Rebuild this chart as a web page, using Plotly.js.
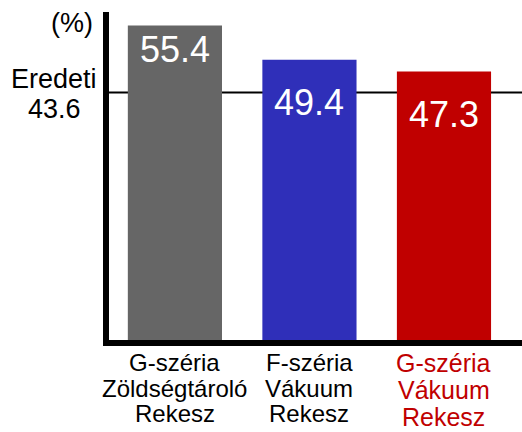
<!DOCTYPE html>
<html>
<head>
<meta charset="utf-8">
<script src="https://cdn.plot.ly/plotly-3.0.1.min.js"></script>
<style>html,body{margin:0;padding:0;background:#fff;}#chart{width:522px;height:432px;}</style>
</head>
<body>
<div id="chart"></div>
<script>
// ---- data ----
const categories = ["G-széria<br>Zöldségtároló<br>Rekesz", "F-széria<br>Vákuum<br>Rekesz", "G-széria<br>Vákuum<br>Rekesz"];
const values = [55.4, 49.4, 47.3];
const valueLabels = ["55.4", "49.4", "47.3"];
const baselineValue = 43.6;
const baselineLabel = "Eredeti";
const unitLabel = "(%)";

// ---- styles ----
const barColors = ["#666666", "#2F2FB9", "#C00000"];
const catColors = ["#000000", "#000000", "#C00000"];
const catSizes = [24, 24, 25];
const catFirstShift = [22.5, 22.5, 23];
const catLineGap = [25.5, 25.5, 26.8];
const valueShift = [-24, -43, -43];
const FONT = "Liberation Sans, Arial, sans-serif";

const annotations = [];
values.forEach((v, i) => {
  annotations.push({
    x: categories[i], y: v, xref: "x", yref: "y",
    text: valueLabels[i], showarrow: false,
    xanchor: "center", yanchor: "middle", yshift: valueShift[i],
    font: {family: FONT, size: 36, color: "#ffffff"}
  });
  categories[i].split("<br>").forEach((line, j) => {
    annotations.push({
      x: categories[i], y: 0, xref: "x", yref: "paper",
      text: line, showarrow: false, borderpad: 0,
      xanchor: "center", yanchor: "middle",
      yshift: -(catFirstShift[i] + j * catLineGap[i]),
      font: {family: FONT, size: catSizes[i], color: catColors[i]}
    });
  });
});
annotations.push({
  x: 0, y: 1, xref: "paper", yref: "paper", text: unitLabel, showarrow: false,
  xanchor: "center", yanchor: "middle", xshift: -37, yshift: -11,
  font: {family: FONT, size: 27, color: "#000"}
});
annotations.push({
  x: 0, y: baselineValue, xref: "paper", yref: "y", text: baselineLabel, showarrow: false,
  xanchor: "center", yanchor: "middle", xshift: -55, yshift: 14,
  font: {family: FONT, size: 27, color: "#000"}
});
annotations.push({
  x: 0, y: baselineValue, xref: "paper", yref: "y", text: String(baselineValue), showarrow: false,
  xanchor: "center", yanchor: "middle", xshift: -55, yshift: -16,
  font: {family: FONT, size: 27, color: "#000"}
});

const trace = {
  type: "bar", x: categories, y: values,
  marker: {color: barColors, line: {width: 0}},
  hoverinfo: "none"
};

const layout = {
  width: 522, height: 432,
  margin: {l: 109, r: 0, t: 12, b: 92, pad: 0},
  paper_bgcolor: "#ffffff", plot_bgcolor: "#ffffff",
  showlegend: false, bargap: 0.3,
  xaxis: {
    type: "category", range: [-0.49, 2.58], showticklabels: false, ticks: "",
    showgrid: false, zeroline: false, showline: true, linewidth: 6, linecolor: "#000",
    fixedrange: true
  },
  yaxis: {
    range: [0, 57.8], showticklabels: false, ticks: "", showgrid: false, zeroline: false,
    showline: true, linewidth: 6, linecolor: "#000", fixedrange: true
  },
  shapes: [{
    type: "line", xref: "paper", yref: "y", x0: 0, x1: 1, y0: baselineValue, y1: baselineValue,
    layer: "below", line: {color: "#000", width: 2}
  }],
  annotations: annotations
};

Plotly.newPlot("chart", [trace], layout, {displayModeBar: false, staticPlot: true});
</script>
</body>
</html>
